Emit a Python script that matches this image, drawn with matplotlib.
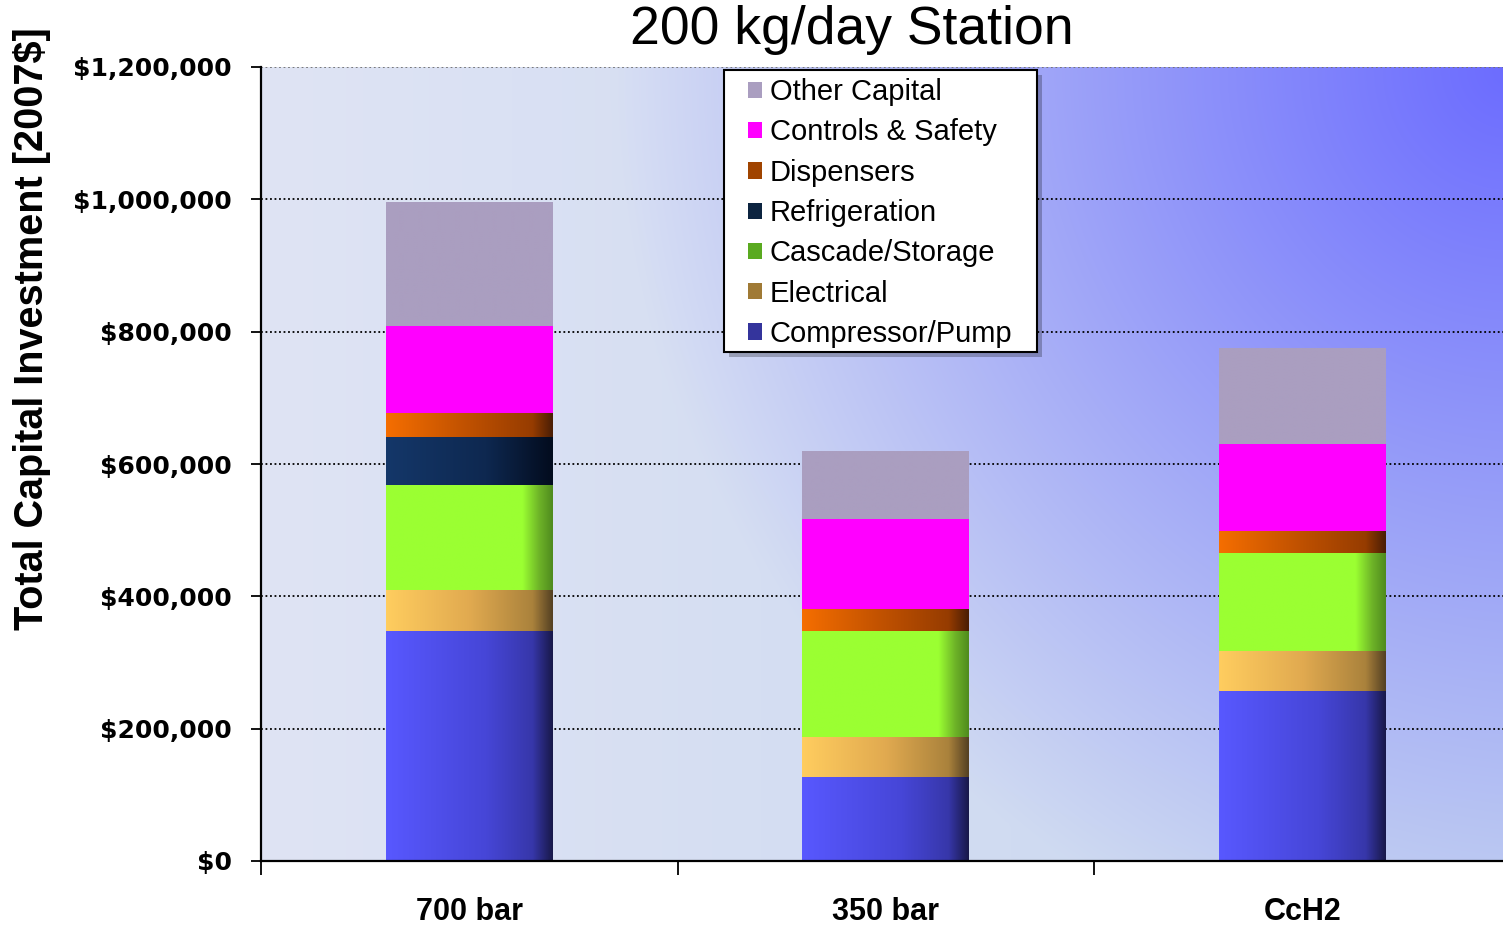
import numpy as np
import matplotlib
matplotlib.use("Agg")
import matplotlib.pyplot as plt
from matplotlib.patches import Patch, Rectangle

categories = ["700 bar", "350 bar", "CcH2"]
series_names = ["Compressor/Pump", "Electrical", "Cascade/Storage", "Refrigeration",
                "Dispensers", "Controls & Safety", "Other Capital"]
compressor = [348000, 127000, 257000]
electrical = [61000, 60500, 60500]
cascade = [160000, 160000, 148000]
refrigeration = [72500, 0, 0]
dispensers = [35000, 33000, 33000]
controls = [131500, 136000, 131500]
other = [187500, 103000, 145000]
yticks = [0, 200000, 400000, 600000, 800000, 1000000, 1200000]
ytick_labels = ["$0", "$200,000", "$400,000", "$600,000", "$800,000", "$1,000,000", "$1,200,000"]

series_vals = [compressor, electrical, cascade, refrigeration, dispensers, controls, other]

# horizontal gradient profiles (position, rgb)
profiles = [
    [(0, (88, 88, 255)), (0.6, (70, 70, 215)), (0.88, (55, 55, 170)), (1.0, (25, 25, 75))],
    [(0, (255, 205, 95)), (0.5, (225, 170, 80)), (0.88, (170, 130, 60)), (1.0, (85, 65, 35))],
    [(0, (155, 255, 50)), (0.82, (155, 255, 50)), (0.92, (110, 180, 40)), (1.0, (80, 140, 30))],
    [(0, (20, 55, 105)), (0.6, (14, 40, 80)), (1.0, (3, 12, 30))],
    [(0, (245, 110, 0)), (0.5, (190, 80, 0)), (0.88, (150, 60, 0)), (1.0, (75, 30, 5))],
    [(0, (255, 0, 255)), (1.0, (255, 0, 255))],
    [(0, (170, 158, 192)), (1.0, (170, 158, 192))],
]
legend_colors = ["#34349c", "#a07a35", "#5aaa20", "#0c2440", "#a04400", "#ff00ff", "#aa9ec0"]


def grad_img(prof, n=128):
    xs = np.linspace(0, 1, n)
    pos = [p for p, _ in prof]
    img = np.zeros((1, n, 3))
    for c in range(3):
        img[0, :, c] = np.interp(xs, pos, [col[c] for _, col in prof]) / 255.0
    return img


fam = ["Liberation Sans", "DejaVu Sans"]
W, H = 1503, 925

fig = plt.figure(figsize=(W / 100, H / 100), dpi=100)
ax = fig.add_axes([261 / W, 64 / H, 1249.5 / W, 794 / H])

# background gradient
ny, nx = 200, 300
X, Y = np.meshgrid(np.linspace(0, 1, nx), np.linspace(1, 0, ny))
base0 = np.array([223, 228, 244]) / 255
base1 = np.array([198, 213, 240]) / 255
blue = np.array([108, 108, 255]) / 255
d = np.sqrt(((1 - X) / 0.72) ** 2 + ((1 - Y) / 1.15) ** 2)
w = np.clip(1 - d, 0, 1)
bg = base0[None, None, :] * (1 - X[..., None]) + base1[None, None, :] * X[..., None]
bg = bg * (1 - w[..., None]) + blue[None, None, :] * w[..., None]
ax.imshow(bg, extent=(0, 1, 0, 1), transform=ax.transAxes, aspect="auto", zorder=0,
          interpolation="bilinear")

for yv in yticks[1:-1]:
    ax.axhline(yv, color="black", linestyle=(0, (1, 1.5)), linewidth=1.3, zorder=1)
ax.axhline(yticks[-1], color="#707070", linestyle=(0, (1, 1.5)), linewidth=1.3, zorder=1)

x = np.arange(len(categories))
width = 0.4
bottom = np.zeros(len(categories))
for vals, prof in zip(series_vals, profiles):
    vals = np.array(vals, dtype=float)
    bars = ax.bar(x, vals, width, bottom=bottom, color="none", edgecolor="none", zorder=2)
    img = grad_img(prof)
    for b, v, b0 in zip(bars, vals, bottom):
        if v <= 0:
            continue
        im = ax.imshow(img, extent=(b.get_x(), b.get_x() + b.get_width(), b0, b0 + v),
                       aspect="auto", zorder=3, interpolation="bilinear")
        im.set_clip_path(b)
    bottom += vals

ax.set_xlim(-0.5, 2.5)
ax.set_ylim(0, 1200000)
ax.set_yticks(yticks)
ax.set_yticklabels(ytick_labels, fontsize=18, fontweight="bold", family="DejaVu Sans")
ax.set_xticks(x)
ax.set_xticklabels(categories, fontsize=22, fontweight="bold", family=fam)
ax.tick_params(axis="x", which="major", length=0, pad=26)
ax.set_xticks([-0.5, 0.5, 1.5], minor=True)
ax.tick_params(axis="x", which="minor", length=10, width=1.3, direction="out")
ax.tick_params(axis="y", length=7.5, width=1.3, direction="out", pad=13.5)

for s in ["top", "right"]:
    ax.spines[s].set_visible(False)
for s in ["left", "bottom"]:
    ax.spines[s].set_linewidth(1.6)
    ax.spines[s].set_zorder(5)

fig.text(32 / W, 1 - 329 / H, "Total Capital Investment [2007$]",
         rotation=90, fontsize=28.5, fontweight="bold", family=fam,
         va="center", ha="center")
fig.text(852 / W, 1 - 30 / H, "200 kg/day Station", fontsize=38.5, family=fam,
         ha="center", va="center")

# legend frame (box with shadow), then frameless legend inside
fx0, fy0, fx1, fy1 = 724 / W, 1 - 352 / H, 1037 / W, 1 - 70 / H
shadow = Rectangle((fx0 + 5 / W, fy0 - 5 / H), fx1 - fx0, fy1 - fy0, transform=fig.transFigure,
                   facecolor="#000000", alpha=0.25, edgecolor="none", zorder=6)
frame = Rectangle((fx0, fy0), fx1 - fx0, fy1 - fy0, transform=fig.transFigure,
                  facecolor="white", edgecolor="black", linewidth=1.5, zorder=6.5)
fig.patches.extend([shadow, frame])

handles = [Patch(facecolor=c, edgecolor="none") for c in legend_colors]
leg = fig.legend(handles[::-1], series_names[::-1], loc="center left",
                 bbox_to_anchor=(748 / W, 1 - 213 / H), borderaxespad=0, borderpad=0,
                 prop={"family": fam, "size": 21},
                 handlelength=0.48, handleheight=0.48, handletextpad=0.27, labelspacing=0.42,
                 frameon=False)
leg.set_zorder(7)

fig.savefig("out.png", dpi=100)
